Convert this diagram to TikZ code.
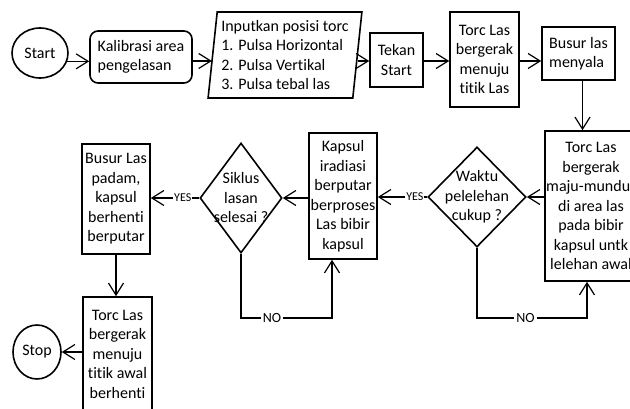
\documentclass[tikz,border=0pt]{standalone}
\usepackage{fontspec}
\setmainfont[Ligatures=NoCommon]{Carlito}
\usetikzlibrary{arrows.meta,shapes.geometric}
\tikzset{
  box/.style={draw, line width=1.6pt, align=center, inner sep=1pt},
  term/.style={draw, ellipse, line width=1.6pt, inner sep=0pt},
  dec/.style={draw, diamond, line width=1.6pt, inner sep=0pt},
  conn/.style={line width=1.2pt, -{Straight Barb[length=12pt,width=15pt]}},
  yeslab/.style={fill=white, inner sep=1pt, font=\fontsize{12}{14}\selectfont},
  nolab/.style={fill=white, inner sep=2pt, font=\fontsize{14}{16}\selectfont}
}
\begin{document}
\begin{tikzpicture}[x=1pt,y=-1pt,font=\fontsize{16}{19.5}\selectfont]
\useasboundingbox (0,0) rectangle (630,409);
\coordinate (row) at (0,61);
\coordinate (loop) at (0,318);
% top row
\node[term, minimum width=56pt, minimum height=50pt] (start) at (40,53) {Start};
\node[box, align=left, rounded corners=8pt, minimum width=102pt, minimum height=52pt] (kal) at (141,57) {Kalibrasi area\\pengelasan};
\node[box, align=left, shape=trapezium, trapezium left angle=83, trapezium right angle=97, trapezium stretches=true, minimum width=154pt, minimum height=86pt, inner sep=0pt] (inp) at (285,55) {Inputkan posisi torc\\1. Pulsa Horizontal\\2. Pulsa Vertikal\\3. Pulsa tebal las};
\node[box, minimum width=53pt, minimum height=54pt] (tekan) at (396.5,60) {Tekan\\Start};
\node[box, minimum width=69pt, minimum height=95pt] (torc) at (484.5,59.5) {Torc Las\\bergerak\\menuju\\titik Las};
\node[box, align=left, minimum width=73pt, minimum height=53pt] (busur) at (578.5,53.5) {Busur las\\menyala};
% second row
\node[box, minimum width=92pt, minimum height=150pt] (torc2) at (591,206) {Torc Las\\bergerak\\maju-mundur\\di area las\\pada bibir\\kapsul untk\\lelehan awal};
\node[dec, minimum width=98pt, minimum height=100pt, label={[align=center]center:{Waktu\\pelelehan\\cukup ?}}] (waktu) at (477,197) {};
\node[box, minimum width=68pt, minimum height=126pt, inner sep=0pt] (kapsul) at (343,196) {Kapsul\\iradiasi\\berputar\\berproses\\Las bibir\\kapsul};
\node[dec, minimum width=82pt, minimum height=110pt, label={[align=center]center:{Siklus\\lasan\\selesai ?}}] (siklus) at (241,198) {};
\node[box, minimum width=68pt, minimum height=110pt, inner sep=0pt] (busur2) at (116,199) {Busur Las\\padam,\\kapsul\\berhenti\\berputar};
% bottom
\node[box, minimum width=69pt, minimum height=114pt, inner sep=0pt] (torcawal) at (117.5,354) {Torc Las\\bergerak\\menuju\\titik awal\\berhenti};
\node[term, minimum width=48pt, minimum height=54pt] (stop) at (37,352) {Stop};
% connectors
\draw[conn] (start.-17) -- (start.-17 -| kal.west);
\draw[conn] (kal.east |- row) -- (row -| inp.west);
\draw[conn] (inp.east |- row) -- (row -| tekan.west);
\draw[conn] (tekan.east |- row) -- (row -| torc.west);
\draw[conn] (torc.east |- row) -- (row -| busur.west);
\draw[conn] ([xshift=4pt]busur.south) -- ([xshift=4pt]busur.south |- torc2.north);
\draw[conn] (torc2.west |- waktu) -- (waktu.east);
\draw[conn] (waktu.west) -- (waktu.west -| kapsul.east) node[yeslab, pos=0.25] {YES};
\draw[conn] (waktu.south) |- node[nolab, pos=0.72] {NO} ([xshift=-4pt]torc2.south |- loop) -- ([xshift=-4pt]torc2.south);
\draw[conn] (kapsul.west |- siklus) -- (siklus.east);
\draw[conn] (siklus.west) -- (siklus.west -| busur2.east) node[yeslab, pos=0.34] {YES};
\draw[conn] (siklus.south) |- node[nolab, pos=0.67] {NO} ([xshift=-11pt]kapsul.south |- loop) -- ([xshift=-11pt]kapsul.south);
\draw[conn] (busur2.south) -- (busur2.south |- torcawal.north);
\draw[conn] (torcawal.west |- stop) -- (stop.east);
\end{tikzpicture}
\end{document}
